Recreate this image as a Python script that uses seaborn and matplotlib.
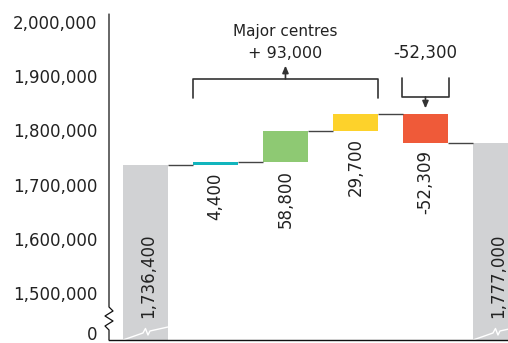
import numpy as np
import pandas as pd
import matplotlib
matplotlib.use("Agg")
import matplotlib.pyplot as plt
import matplotlib.transforms as mtransforms
import seaborn as sns

# Waterfall: opening total, changes by centre group, closing total
steps = ["Opening", "Centre A", "Centre B", "Centre C", "Other", "Closing"]
values = [1736400, 4400, 58800, 29700, -52309, 1777000]
value_labels = ["1,736,400", "4,400", "58,800", "29,700", "-52,309", "1,777,000"]
colors = ["#d1d2d4", "#12b5bd", "#8ec973", "#fdd22b", "#ef5a39", "#d1d2d4"]

y_ticks = [1425000, 1500000, 1600000, 1700000, 1800000, 1900000, 2000000]
y_tick_labels = ["0", "1,500,000", "1,600,000", "1,700,000", "1,800,000", "1,900,000", "2,000,000"]

major_title = "Major centres"
major_change = "+ 93,000"
other_change = "-52,300"

# floating bars: totals start at zero, changes start at the running total
running = np.cumsum(values[:-1])
bottoms = [0] + list(running[:-1]) + [0]

df = pd.DataFrame({"step": steps, "value": values})

sns.set_theme(style="white")
plt.rcParams["font.family"] = ["DejaVu Sans"]
ink = "#222222"

fig = plt.figure(figsize=(5.08, 3.43), dpi=100)
ax = fig.add_axes([109 / 508, 3 / 343, 399 / 508, 326 / 343])

bar_w = 0.643
sns.barplot(data=df, x="step", y="value", order=steps, width=bar_w,
            errorbar=None, color=colors[0], bottom=bottoms,
            linewidth=0, ax=ax)
for patch, c in zip(ax.patches, colors):
    patch.set_facecolor(c)
    patch.set_edgecolor("none")

y_lo, y_hi = 1413000, 2014800
ax.set_xlim(-0.521, 5.179)
ax.set_ylim(y_lo, y_hi)
ax.set_xlabel("")
ax.set_ylabel("")
ax.set_xticks([])
ax.set_yticks(y_ticks)
ax.set_yticklabels(y_tick_labels, fontsize=12, color=ink)
ax.tick_params(axis="y", length=0, pad=8.5)

# connectors between consecutive bars
for i in range(len(steps) - 1):
    lvl = running[i]
    ax.plot([i + bar_w / 2, i + 1 - bar_w / 2], [lvl, lvl],
            color="#444444", lw=1.0, solid_capstyle="butt")

# value labels under the change bars
for i in range(1, len(steps) - 1):
    bot = min(bottoms[i], bottoms[i] + values[i])
    ax.annotate(value_labels[i], xy=(i, bot), xytext=(0, -5.5),
                textcoords="offset points", rotation=90,
                ha="center", va="top", fontsize=12, color=ink)

# total labels inside the grey bars
bt = mtransforms.blended_transform_factory(ax.transData, ax.transAxes)
for i in (0, len(steps) - 1):
    ax.text(i + 0.04, 0.068, value_labels[i], rotation=90, transform=bt,
            ha="center", va="bottom", fontsize=12, color=ink)

# white break marks across the grey bars
def px_y(p):
    return (340 - p) / 326

brk_x = np.array([0, 20, 22.5, 25, 27, 45]) / 70
brk_y = [px_y(v) for v in (340, 333, 328.5, 335, 331, 327)]
for i in (0, len(steps) - 1):
    ax.plot(i - bar_w / 2 + brk_x, brk_y, color="white", lw=1.0,
            transform=bt, clip_on=True)

# axis lines with a break on the value axis
ax.spines["left"].set_visible(False)
ax.spines["right"].set_visible(False)
ax.spines["top"].set_visible(False)
ax.spines["bottom"].set_color("#111111")
ax.spines["bottom"].set_linewidth(1.0)
aw = 399.0
sx = [0, 0, 4, -4, 4, -4, 0, 0]
sy = [14, 307, 311, 316, 321, 326, 330, 340]
ax.plot([v / aw for v in sx], [px_y(v) for v in sy], color="#111111",
        lw=0.9, transform=ax.transAxes, clip_on=False)

# bracket over the major centres with upward arrow
lc = "#333333"
x0, x1 = 1 - bar_w / 2, 3 + bar_w / 2
yb_top, yb_bot = 1894800, 1859700
ax.plot([x0, x0, x1, x1], [yb_bot, yb_top, yb_top, yb_bot], color=lc, lw=1.2)
ax.annotate("", xy=(2, 1919500), xytext=(2, yb_top),
            arrowprops=dict(arrowstyle="-|>,head_length=0.35,head_width=0.15",
                            color=lc, lw=1.2, shrinkA=0, shrinkB=0))
ax.text(2, 1981600, major_title, ha="center", va="center", fontsize=11,
        color=ink)
ax.text(2, 1942800, major_change, ha="center", va="center", fontsize=11.5,
        color=ink)

# bracket over the remaining change with downward arrow
r0, r1 = 4 - 0.33, 4 + 0.33
yr_top, yr_bot = 1896700, 1861600
ax.plot([r0, r0, r1, r1], [yr_top, yr_bot, yr_bot, yr_top], color=lc, lw=1.2)
ax.annotate("", xy=(4, 1840500), xytext=(4, yr_bot),
            arrowprops=dict(arrowstyle="-|>,head_length=0.35,head_width=0.15",
                            color=lc, lw=1.2, shrinkA=0, shrinkB=0))
ax.text(4, 1942800, other_change, ha="center", va="center", fontsize=12,
        color=ink)

fig.savefig("out.png", dpi=100)
